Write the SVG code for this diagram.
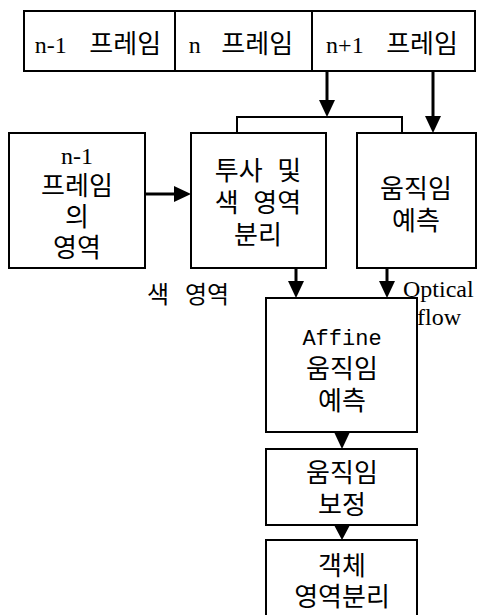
<svg xmlns="http://www.w3.org/2000/svg" width="479" height="615" viewBox="0 0 479 615">
<style>
.box{fill:#fff;stroke:#000;stroke-width:2}
.t{font-family:'Liberation Serif','Noto Sans CJK KR',serif;font-size:26px;fill:#000;text-anchor:middle}
.e{font-size:24px}
.m{font-family:'Liberation Mono','Noto Sans CJK KR',monospace;font-size:22px;fill:#000;text-anchor:middle}
.l{font-family:'Liberation Serif','Noto Sans CJK KR',serif;font-size:24px;fill:#000}
.c{fill:none;stroke:#000;stroke-width:3}
.c2{fill:none;stroke:#000;stroke-width:2}
.h{fill:#000}
</style>
<defs>
<marker id="ah" markerUnits="userSpaceOnUse" markerWidth="17" markerHeight="17" refX="0" refY="8" orient="auto" viewBox="0 0 17 16">
<path d="M0,0 L17,8 L0,16 z" fill="#000"/>
</marker>
</defs>
<rect width="479" height="615" fill="#fff"/>
<g id="frame-n-1">
<rect class="box" x="24" y="11" width="151" height="60"/>
<text class="t" x="98" y="53" word-spacing="16"><tspan class="e">n-1</tspan> 프레임</text>
</g>
<g id="frame-n">
<rect class="box" x="175" y="11" width="137" height="60"/>
<text class="t" x="241" y="53" word-spacing="14"><tspan class="e">n</tspan> 프레임</text>
</g>
<g id="frame-n+1">
<rect class="box" x="312" y="11" width="163" height="60"/>
<text class="t" x="392" y="53" word-spacing="16"><tspan class="e">n+1</tspan> 프레임</text>
</g>
<g id="prev-region">
<rect class="box" x="9" y="133" width="136" height="135"/>
<text class="t e" x="77" y="164">n-1</text>
<text class="t" x="77" y="195">프레임</text>
<text class="t" x="77" y="226">의</text>
<text class="t" x="77" y="257">영역</text>
</g>
<g id="projection">
<rect class="box" x="191" y="133" width="135" height="135"/>
<text class="t" x="258" y="180" word-spacing="8">투사 및</text>
<text class="t" x="258" y="212" word-spacing="8">색 영역</text>
<text class="t" x="258" y="244">분리</text>
</g>
<g id="motion-est">
<rect class="box" x="357" y="133" width="119" height="135"/>
<text class="t" x="416" y="198">움직임</text>
<text class="t" x="416" y="230">예측</text>
</g>
<g id="affine">
<rect class="box" x="266" y="298" width="151" height="134"/>
<text class="m" x="342" y="345">Affine</text>
<text class="t" x="342" y="378">움직임</text>
<text class="t" x="342" y="410">예측</text>
</g>
<g id="compensation">
<rect class="box" x="266" y="449" width="151" height="76"/>
<text class="t" x="342" y="482">움직임</text>
<text class="t" x="342" y="514">보정</text>
</g>
<g id="segmentation">
<rect class="box" x="266" y="540" width="151" height="85"/>
<text class="t" x="342" y="575">객체</text>
<text class="t" x="342" y="606">영역분리</text>
</g>
<g id="connectors">
<line class="c" x1="327" y1="71" x2="327" y2="100" marker-end="url(#ah)"/>
<polyline class="c2" points="237,133 237,117 402,117 402,133"/>
<line class="c" x1="433" y1="71" x2="433" y2="116" marker-end="url(#ah)"/>
<line class="c" x1="145" y1="194" x2="174" y2="194" marker-end="url(#ah)"/>
<line class="c" x1="296" y1="268" x2="296" y2="281" marker-end="url(#ah)"/>
<line class="c" x1="387" y1="268" x2="387" y2="281" marker-end="url(#ah)"/>
<path class="h" d="M334,432 L350,432 L342,449 z"/>
<path class="h" d="M334,525 L350,525 L342,540 z"/>
<text class="l" x="188" y="303" font-size="26" word-spacing="10" text-anchor="middle">색 영역</text>
<text class="l" x="403" y="297">Optical</text>
<text class="l" x="417" y="325">flow</text>
</g>
</svg>
